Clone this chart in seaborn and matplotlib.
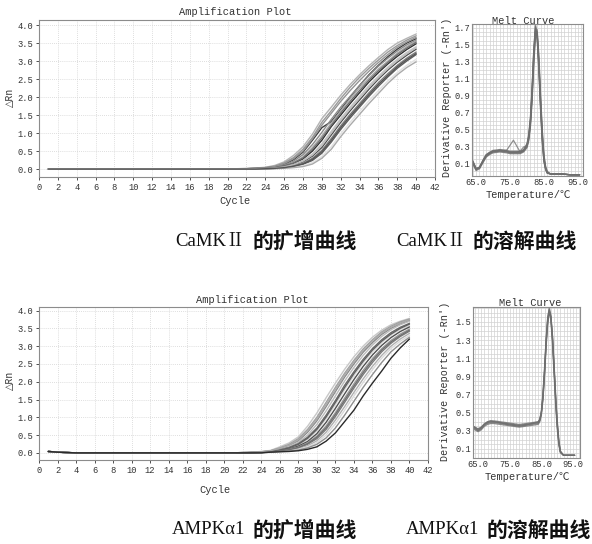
import matplotlib
matplotlib.use("Agg")
import matplotlib.pyplot as plt
import pandas as pd
import seaborn as sns
from matplotlib.ticker import MultipleLocator

# ---------------- data ----------------
CYCLES_BASE = list(range(1, 21))
CYCLES_RISE = list(range(21, 41))

CAMK_BASE = [0.00, 0.00, 0.00, 0.00, 0.00, 0.00, 0.00, 0.00, 0.00, 0.00,
             0.00, 0.00, 0.00, 0.00, 0.00, 0.00, 0.00, 0.00, 0.00, 0.00]
CAMK_AMP = [
    [0.01, 0.02, 0.03, 0.05, 0.10, 0.20, 0.38, 0.62, 0.97, 1.40, 1.72, 2.05, 2.35, 2.62, 2.87, 3.10, 3.32, 3.50, 3.63, 3.75],
    [0.01, 0.01, 0.02, 0.04, 0.08, 0.17, 0.32, 0.55, 0.88, 1.30, 1.62, 1.96, 2.27, 2.55, 2.80, 3.03, 3.25, 3.43, 3.58, 3.70],
    [0.00, 0.01, 0.02, 0.03, 0.06, 0.13, 0.26, 0.47, 0.80, 1.15, 1.32, 1.65, 2.00, 2.32, 2.62, 2.88, 3.12, 3.33, 3.50, 3.62],
    [0.00, 0.01, 0.02, 0.03, 0.05, 0.11, 0.22, 0.40, 0.68, 1.02, 1.38, 1.72, 2.02, 2.32, 2.60, 2.86, 3.08, 3.28, 3.45, 3.58],
    [0.00, 0.01, 0.01, 0.02, 0.05, 0.09, 0.18, 0.34, 0.60, 0.92, 1.28, 1.62, 1.95, 2.25, 2.52, 2.78, 3.00, 3.22, 3.40, 3.55],
    [0.00, 0.00, 0.01, 0.02, 0.04, 0.08, 0.15, 0.28, 0.50, 0.80, 1.18, 1.50, 1.82, 2.12, 2.42, 2.68, 2.92, 3.13, 3.32, 3.48],
    [0.00, 0.00, 0.01, 0.02, 0.03, 0.07, 0.13, 0.24, 0.42, 0.70, 1.05, 1.40, 1.72, 2.02, 2.32, 2.58, 2.83, 3.05, 3.24, 3.40],
    [0.00, 0.00, 0.01, 0.01, 0.03, 0.06, 0.11, 0.20, 0.36, 0.60, 0.95, 1.30, 1.62, 1.92, 2.22, 2.50, 2.75, 2.97, 3.16, 3.33],
    [0.00, 0.00, 0.00, 0.01, 0.02, 0.05, 0.09, 0.16, 0.30, 0.52, 0.85, 1.20, 1.52, 1.82, 2.12, 2.40, 2.65, 2.88, 3.08, 3.25],
    [0.00, 0.00, 0.00, 0.01, 0.02, 0.04, 0.07, 0.13, 0.24, 0.44, 0.75, 1.10, 1.42, 1.72, 2.02, 2.30, 2.56, 2.80, 3.00, 3.18],
    [0.00, 0.00, 0.00, 0.01, 0.01, 0.03, 0.05, 0.10, 0.18, 0.35, 0.62, 0.98, 1.30, 1.60, 1.90, 2.18, 2.45, 2.68, 2.88, 3.05],
    [0.00, 0.00, 0.00, 0.00, 0.01, 0.02, 0.04, 0.07, 0.14, 0.30, 0.55, 0.90, 1.22, 1.52, 1.82, 2.10, 2.38, 2.62, 2.82, 2.98],
    [0.00, 0.01, 0.02, 0.04, 0.07, 0.15, 0.29, 0.50, 0.84, 1.22, 1.55, 1.88, 2.18, 2.46, 2.72, 2.96, 3.18, 3.38, 3.53, 3.66],
    [0.00, 0.00, 0.01, 0.02, 0.04, 0.09, 0.17, 0.31, 0.55, 0.86, 1.22, 1.56, 1.88, 2.18, 2.47, 2.73, 2.96, 3.18, 3.36, 3.52],
    [0.00, 0.00, 0.01, 0.01, 0.03, 0.06, 0.12, 0.22, 0.39, 0.65, 1.00, 1.35, 1.67, 1.97, 2.27, 2.54, 2.79, 3.01, 3.20, 3.37],
    [0.00, 0.00, 0.00, 0.01, 0.02, 0.04, 0.08, 0.14, 0.27, 0.48, 0.80, 1.15, 1.47, 1.77, 2.07, 2.35, 2.60, 2.84, 3.04, 3.21],
]
CAMK_GRAYS = ['#b4b4b4', '#9a9a9a', '#3c3c3c', '#8c8c8c', '#a8a8a8', '#2e2e2e',
              '#c4c4c4', '#4a4a4a', '#7c7c7c', '#5e5e5e', '#e2e2e2', '#aaaaaa',
              '#949494', '#6e6e6e', '#bcbcbc', '#555555']

AMPK_BASE = [0.04, 0.02, 0.01, 0.00, 0.00, 0.00, 0.00, 0.00, 0.00, 0.00,
             0.00, 0.00, 0.00, 0.00, 0.00, 0.00, 0.00, 0.00, 0.00, 0.00]
AMPK_AMP = [
    [0.00, 0.01, 0.02, 0.04, 0.07, 0.17, 0.28, 0.45, 0.75, 1.12, 1.55, 1.96, 2.35, 2.70, 3.00, 3.25, 3.45, 3.60, 3.70, 3.78],
    [0.00, 0.01, 0.02, 0.03, 0.06, 0.14, 0.24, 0.40, 0.66, 1.00, 1.42, 1.84, 2.24, 2.60, 2.92, 3.18, 3.40, 3.56, 3.68, 3.76],
    [0.00, 0.01, 0.01, 0.03, 0.05, 0.12, 0.21, 0.34, 0.58, 0.90, 1.30, 1.72, 2.13, 2.50, 2.83, 3.10, 3.33, 3.50, 3.62, 3.72],
    [0.00, 0.00, 0.01, 0.02, 0.05, 0.10, 0.18, 0.30, 0.50, 0.80, 1.18, 1.60, 2.02, 2.40, 2.74, 3.03, 3.27, 3.46, 3.60, 3.70],
    [0.00, 0.00, 0.01, 0.02, 0.04, 0.09, 0.15, 0.26, 0.44, 0.70, 1.06, 1.47, 1.90, 2.28, 2.63, 2.93, 3.18, 3.38, 3.53, 3.64],
    [0.00, 0.00, 0.01, 0.02, 0.04, 0.08, 0.13, 0.22, 0.38, 0.62, 0.96, 1.36, 1.78, 2.17, 2.53, 2.84, 3.10, 3.31, 3.47, 3.58],
    [0.00, 0.00, 0.01, 0.01, 0.03, 0.07, 0.11, 0.19, 0.32, 0.54, 0.86, 1.25, 1.66, 2.06, 2.43, 2.75, 3.02, 3.24, 3.41, 3.54],
    [0.00, 0.00, 0.00, 0.01, 0.03, 0.06, 0.10, 0.16, 0.28, 0.47, 0.76, 1.13, 1.54, 1.94, 2.32, 2.65, 2.93, 3.16, 3.34, 3.48],
    [0.00, 0.00, 0.00, 0.01, 0.03, 0.05, 0.08, 0.14, 0.24, 0.40, 0.66, 1.02, 1.42, 1.82, 2.20, 2.54, 2.84, 3.08, 3.27, 3.42],
    [0.00, 0.00, 0.00, 0.01, 0.02, 0.05, 0.07, 0.12, 0.20, 0.34, 0.58, 0.92, 1.30, 1.70, 2.08, 2.43, 2.74, 3.00, 3.20, 3.36],
    [0.00, 0.00, 0.00, 0.01, 0.02, 0.04, 0.06, 0.10, 0.17, 0.29, 0.50, 0.82, 1.20, 1.60, 1.98, 2.34, 2.66, 2.93, 3.14, 3.30],
    [0.00, 0.00, 0.00, 0.01, 0.02, 0.04, 0.05, 0.08, 0.14, 0.24, 0.42, 0.70, 1.06, 1.45, 1.84, 2.20, 2.54, 2.84, 3.06, 3.25],
    [0.00, 0.00, 0.01, 0.02, 0.04, 0.08, 0.14, 0.24, 0.41, 0.66, 1.01, 1.42, 1.84, 2.23, 2.58, 2.89, 3.14, 3.34, 3.50, 3.62],
    [0.00, 0.01, 0.02, 0.03, 0.06, 0.13, 0.22, 0.37, 0.62, 0.95, 1.36, 1.78, 2.19, 2.56, 2.88, 3.15, 3.37, 3.53, 3.65, 3.74],
    [0.00, 0.00, 0.00, 0.01, 0.03, 0.06, 0.09, 0.15, 0.26, 0.44, 0.71, 1.08, 1.48, 1.88, 2.26, 2.60, 2.89, 3.12, 3.30, 3.45],
    [0.00, 0.00, 0.00, 0.00, 0.02, 0.03, 0.04, 0.06, 0.10, 0.17, 0.33, 0.56, 0.88, 1.20, 1.60, 1.96, 2.30, 2.66, 2.95, 3.20],
]
AMPK_GRAYS = ['#c8c8c8', '#a0a0a0', '#8a8a8a', '#bcbcbc', '#6a6a6a', '#d6d6d6',
              '#505050', '#9c9c9c', '#7a7a7a', '#b0b0b0', '#dadada', '#8e8e8e',
              '#606060', '#aaaaaa', '#707070', '#2a2a2a']

CAMK_MELT_T = [64.0, 65.0, 66.0, 67.0, 68.0, 69.0, 70.0, 72.0, 74.0, 75.0, 76.0,
               77.0, 78.0, 79.0, 80.0, 80.5, 81.0, 81.5, 82.0, 82.5, 83.0, 83.5,
               84.0, 84.5, 85.0, 85.5, 86.0, 87.0, 90.0, 93.0, 95.5]
CAMK_MELT = [
    [0.12, 0.03, 0.04, 0.12, 0.19, 0.22, 0.24, 0.25, 0.24, 0.23, 0.23, 0.23, 0.23, 0.25, 0.31, 0.40, 0.58, 0.92, 1.38, 1.70, 1.62, 1.28, 0.82, 0.42, 0.15, 0.03, -0.02, -0.03, -0.03, -0.04, -0.04],
    [0.10, 0.02, 0.05, 0.13, 0.20, 0.23, 0.25, 0.26, 0.25, 0.24, 0.24, 0.24, 0.24, 0.26, 0.33, 0.44, 0.64, 1.00, 1.45, 1.72, 1.58, 1.20, 0.74, 0.36, 0.12, 0.02, -0.02, -0.03, -0.03, -0.04, -0.04],
    [0.13, 0.04, 0.05, 0.11, 0.18, 0.21, 0.23, 0.24, 0.23, 0.22, 0.22, 0.22, 0.22, 0.24, 0.29, 0.37, 0.54, 0.86, 1.30, 1.64, 1.66, 1.34, 0.88, 0.47, 0.18, 0.05, -0.01, -0.03, -0.03, -0.04, -0.04],
    [0.11, 0.03, 0.04, 0.12, 0.19, 0.22, 0.24, 0.25, 0.25, 0.31, 0.37, 0.30, 0.23, 0.25, 0.31, 0.40, 0.58, 0.92, 1.36, 1.66, 1.60, 1.25, 0.80, 0.40, 0.14, 0.03, -0.02, -0.03, -0.03, -0.04, -0.04],
    [0.12, 0.03, 0.05, 0.13, 0.20, 0.22, 0.24, 0.25, 0.24, 0.23, 0.23, 0.23, 0.24, 0.29, 0.30, 0.41, 0.60, 0.96, 1.42, 1.68, 1.56, 1.18, 0.72, 0.34, 0.11, 0.02, -0.02, -0.03, -0.03, -0.04, -0.04],
    [0.09, 0.01, 0.03, 0.10, 0.17, 0.20, 0.22, 0.23, 0.22, 0.21, 0.21, 0.21, 0.21, 0.23, 0.28, 0.36, 0.52, 0.82, 1.25, 1.60, 1.68, 1.38, 0.92, 0.50, 0.20, 0.06, 0.00, -0.03, -0.03, -0.04, -0.04],
    [0.12, 0.03, 0.04, 0.12, 0.19, 0.22, 0.24, 0.25, 0.24, 0.23, 0.23, 0.23, 0.23, 0.25, 0.32, 0.42, 0.62, 0.98, 1.44, 1.74, 1.64, 1.26, 0.78, 0.38, 0.13, 0.03, -0.02, -0.03, -0.03, -0.04, -0.04],
    [0.11, 0.02, 0.04, 0.12, 0.18, 0.21, 0.23, 0.24, 0.23, 0.22, 0.22, 0.22, 0.22, 0.24, 0.30, 0.39, 0.56, 0.90, 1.34, 1.66, 1.62, 1.30, 0.84, 0.44, 0.16, 0.04, -0.01, -0.03, -0.03, -0.04, -0.04],
]

AMPK_MELT_T = [63.5, 64.0, 65.0, 66.0, 67.0, 68.0, 69.0, 70.0, 72.0, 74.0, 76.0,
               78.0, 80.0, 82.0, 84.0, 84.5, 85.0, 85.5, 86.0, 86.5, 87.0, 87.5,
               88.0, 88.5, 89.0, 89.5, 90.0, 90.5, 91.0, 92.0, 95.5]
AMPK_MELT = [
    [0.34, 0.33, 0.31, 0.33, 0.37, 0.39, 0.40, 0.40, 0.39, 0.38, 0.37, 0.36, 0.37, 0.38, 0.39, 0.42, 0.50, 0.68, 0.95, 1.28, 1.52, 1.63, 1.55, 1.32, 1.00, 0.66, 0.38, 0.18, 0.07, 0.03, 0.03],
    [0.35, 0.34, 0.32, 0.34, 0.38, 0.40, 0.41, 0.41, 0.40, 0.39, 0.38, 0.37, 0.38, 0.39, 0.40, 0.43, 0.52, 0.72, 1.00, 1.33, 1.56, 1.64, 1.52, 1.26, 0.92, 0.58, 0.32, 0.14, 0.06, 0.03, 0.03],
    [0.32, 0.31, 0.29, 0.31, 0.35, 0.37, 0.38, 0.38, 0.37, 0.36, 0.35, 0.34, 0.35, 0.36, 0.37, 0.40, 0.47, 0.64, 0.90, 1.22, 1.47, 1.60, 1.56, 1.36, 1.05, 0.71, 0.42, 0.21, 0.08, 0.03, 0.03],
    [0.34, 0.33, 0.30, 0.32, 0.36, 0.38, 0.39, 0.39, 0.38, 0.37, 0.36, 0.35, 0.36, 0.37, 0.38, 0.41, 0.49, 0.66, 0.93, 1.26, 1.50, 1.62, 1.56, 1.34, 1.02, 0.68, 0.40, 0.19, 0.07, 0.03, 0.03],
    [0.33, 0.32, 0.30, 0.33, 0.37, 0.40, 0.41, 0.40, 0.39, 0.37, 0.36, 0.35, 0.36, 0.38, 0.39, 0.42, 0.51, 0.70, 0.98, 1.30, 1.54, 1.66, 1.58, 1.34, 1.00, 0.64, 0.36, 0.16, 0.06, 0.03, 0.03],
    [0.35, 0.34, 0.32, 0.34, 0.37, 0.39, 0.40, 0.40, 0.39, 0.38, 0.37, 0.36, 0.37, 0.38, 0.40, 0.42, 0.50, 0.67, 0.94, 1.27, 1.51, 1.61, 1.53, 1.30, 0.98, 0.64, 0.37, 0.17, 0.07, 0.03, 0.03],
]

AMP_XTICKS = list(range(0, 43, 2))
AMP_YTICKS = [0.0, 0.5, 1.0, 1.5, 2.0, 2.5, 3.0, 3.5, 4.0]
MELT_XTICKS = [65.0, 75.0, 85.0, 95.0]
CAMK_MELT_YTICKS = [0.1, 0.3, 0.5, 0.7, 0.9, 1.1, 1.3, 1.5, 1.7]
AMPK_MELT_YTICKS = [0.1, 0.3, 0.5, 0.7, 0.9, 1.1, 1.3, 1.5]

# ---------------- style ----------------
sns.set_style("white")
MONO = ['Liberation Mono', 'DejaVu Sans Mono', 'Noto Sans CJK SC']
plt.rcParams['font.family'] = MONO
TXT = '#333333'
SPINE = '#8c8c8c'

fig = plt.figure(figsize=(5.92, 5.44), dpi=100)
W, H = 592.0, 544.0


def box(l, t, r, b):
    return [l / W, 1 - b / H, (r - l) / W, (b - t) / H]


def amp_frame(base, curves):
    rows = []
    for i, c in enumerate(curves):
        for x, y in zip(CYCLES_BASE, base):
            rows.append((x, y, i))
        for x, y in zip(CYCLES_RISE, c):
            rows.append((x, y, i))
    return pd.DataFrame(rows, columns=['cycle', 'rn', 'well'])


def melt_frame(temps, curves):
    rows = []
    for i, c in enumerate(curves):
        for x, y in zip(temps, c):
            rows.append((x, y, i))
    return pd.DataFrame(rows, columns=['temp', 'deriv', 'well'])


def style_axes(ax):
    for s in ax.spines.values():
        s.set_color(SPINE)
        s.set_linewidth(0.8)
    ax.tick_params(axis='both', labelsize=6.3, colors=TXT, length=2, width=0.6,
                   pad=2, direction='out', left=True, bottom=True)
    ax.set_xlabel('')
    ax.set_ylabel('')


def draw_amp(ax, base, curves, grays, ylim):
    df = amp_frame(base, curves)
    sns.lineplot(data=df, x='cycle', y='rn', hue='well', palette=grays,
                 legend=False, estimator=None, linewidth=1.0, ax=ax)
    ax.set_xlim(0, 42)
    ax.set_ylim(*ylim)
    ax.set_xticks(AMP_XTICKS)
    ax.set_xticklabels([str(v) for v in AMP_XTICKS])
    ax.set_yticks(AMP_YTICKS)
    ax.set_yticklabels([f'{v:.1f}' for v in AMP_YTICKS])
    ax.grid(True, color='#d4d4d4', linestyle=(0, (1, 1.5)), linewidth=0.6)
    ax.set_axisbelow(True)
    style_axes(ax)


def draw_melt(ax, temps, curves, xlim, ylim, yticks):
    df = melt_frame(temps, curves)
    sns.lineplot(data=df, x='temp', y='deriv', hue='well',
                 palette=['#6e6e6e'] * len(curves), legend=False,
                 estimator=None, linewidth=0.9, alpha=0.75, ax=ax)
    ax.set_xlim(*xlim)
    ax.set_ylim(*ylim)
    ax.set_xticks(MELT_XTICKS)
    ax.set_xticklabels([f'{v:.1f}' for v in MELT_XTICKS])
    ax.set_yticks(yticks)
    ax.set_yticklabels([f'{v:.1f}' for v in yticks])
    ax.xaxis.set_minor_locator(MultipleLocator(1.0))
    ax.yaxis.set_minor_locator(MultipleLocator(0.05))
    ax.grid(True, which='both', color='#d2d2d2', linewidth=0.5)
    ax.set_axisbelow(True)
    style_axes(ax)
    ax.tick_params(axis='both', which='both', length=0, pad=1.5)


ax1 = fig.add_axes(box(39, 20, 435, 177))
draw_amp(ax1, CAMK_BASE, CAMK_AMP, CAMK_GRAYS, (-0.22, 4.14))
ax2 = fig.add_axes(box(472, 24, 583, 176))
draw_melt(ax2, CAMK_MELT_T, CAMK_MELT, (63.8, 96.5), (-0.054, 1.747), CAMK_MELT_YTICKS)
ax3 = fig.add_axes(box(39, 307, 428, 460))
draw_amp(ax3, AMPK_BASE, AMPK_AMP, AMPK_GRAYS, (-0.2, 4.1))
ax4 = fig.add_axes(box(473, 307, 580, 458))
draw_melt(ax4, AMPK_MELT_T, AMPK_MELT, (63.4, 97.2), (0.0, 1.665), AMPK_MELT_YTICKS)


def ftext(x, y, s, **kw):
    kw.setdefault('color', TXT)
    kw.setdefault('ha', 'center')
    kw.setdefault('va', 'center')
    fig.text(x / W, 1 - y / H, s, **kw)


# amplification labels
ftext(235, 12, 'Amplification Plot', fontsize=7.5)
ftext(252, 300, 'Amplification Plot', fontsize=7.5)
ftext(10, 97, '△Rn', fontsize=7, rotation=90, family=['Liberation Mono', 'DejaVu Sans'])
ftext(10, 380, '△Rn', fontsize=7, rotation=90, family=['Liberation Mono', 'DejaVu Sans'])
ftext(235, 201, 'Cycle', fontsize=7.5)
ftext(215, 490, 'Cycle', fontsize=7.5)

# melt labels
ftext(523, 21, 'Melt Curve', fontsize=7.5)
ftext(530, 303, 'Melt Curve', fontsize=7.5)
ftext(447, 97, "Derivative Reporter (-Rn')", fontsize=7.3, rotation=90)
ftext(445, 381, "Derivative Reporter (-Rn')", fontsize=7.3, rotation=90)
ftext(528, 195, 'Temperature/℃', fontsize=7.5, family=['Liberation Mono', 'Noto Sans CJK SC'])
ftext(527, 477, 'Temperature/℃', fontsize=7.5, family=['Liberation Mono', 'Noto Sans CJK SC'])

# captions
LAT = dict(family=['Liberation Serif', 'Noto Serif CJK SC', 'Noto Sans CJK SC'], fontsize=13.5, color='#111111', va='center')
CJK = dict(family=['Noto Sans CJK SC'], fontsize=15, fontweight='bold', color='#111111', va='center')
ftext(245, 241, 'CaMKⅡ', ha='right', **LAT)
ftext(252, 241, '的扩增曲线', ha='left', **CJK)
ftext(466, 241, 'CaMKⅡ', ha='right', **LAT)
ftext(472, 241, '的溶解曲线', ha='left', **CJK)
ftext(245, 530, 'AMPKα1', ha='right', **LAT)
ftext(252, 530, '的扩增曲线', ha='left', **CJK)
ftext(479, 530, 'AMPKα1', ha='right', **LAT)
ftext(486, 530, '的溶解曲线', ha='left', **CJK)

fig.savefig('out.png', dpi=100, facecolor='white')
